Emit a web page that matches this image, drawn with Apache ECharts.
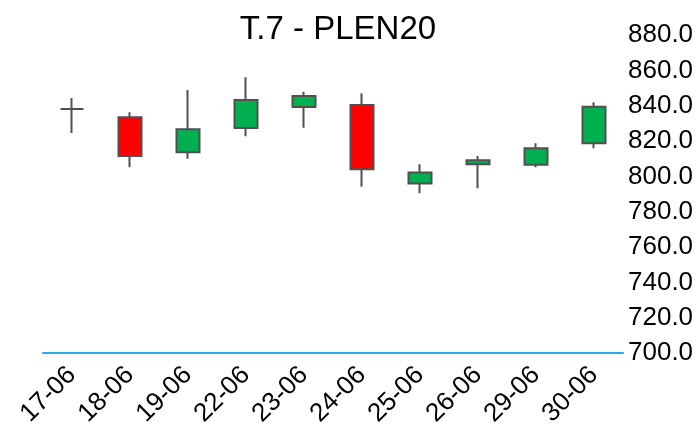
<!DOCTYPE html>
<html>
<head>
<meta charset="utf-8">
<script src="https://cdn.jsdelivr.net/npm/echarts@6/dist/echarts.min.js"></script>
<style>
html,body{margin:0;padding:0;background:#fff;}
#chart{width:698px;height:433px;}
</style>
</head>
<body>
<div id="chart"></div>
<script>
// dates and OHLC
var dates=['17-06','18-06','19-06','22-06','23-06','24-06','25-06','26-06','29-06','30-06'];
var opens =[838.1,833.4,813.6,827.4,839.3,840.4,795.9,806.8,806.6,818.7];
var closes=[838.1,811.5,826.6,843.2,845.5,804.0,802.1,809.1,815.9,839.4];
var lows  =[824.5,805.1,810.0,822.7,827.5,794.1,790.4,793.2,805.1,815.9];
var highs =[844.3,836.3,848.9,856.1,847.9,847.0,806.8,811.5,818.7,841.9];

var candles=[];
for(var i=0;i<dates.length;i++){
    candles.push([opens[i],closes[i],lows[i],highs[i]]);
}

var chart=echarts.init(document.getElementById('chart'),null,{renderer:'canvas'});
chart.setOption({
    animation:false,
    backgroundColor:'#fff',
    title:{
        text:'T.7 - PLEN20',
        left:333, top:8,
        textAlign:'center',
        textStyle:{fontFamily:'Liberation Sans',fontSize:33,fontWeight:'normal',color:'#000'}
    },
    grid:{left:43,right:75,top:35,bottom:80},
    xAxis:{
        type:'category',
        data:dates,
        axisLine:{lineStyle:{color:'#29abe2',width:2}},
        axisTick:{show:false},
        axisLabel:{rotate:45,margin:18,fontFamily:'Liberation Sans',fontSize:26,color:'#000'}
    },
    yAxis:{
        type:'value',
        position:'right',
        min:700,max:880,interval:20,
        axisLine:{show:false},
        axisTick:{show:false},
        splitLine:{show:false},
        axisLabel:{margin:5,fontFamily:'Liberation Sans',fontSize:26,color:'#000',
            formatter:function(v){return v.toFixed(1);}}
    },
    series:[{
        type:'candlestick',
        data:candles,
        barWidth:23,
        itemStyle:{
            color:'#00b050',color0:'#ff0000',
            borderColor:'#505050',borderColor0:'#505050',
            borderWidth:2
        }
    }]
});
</script>
</body>
</html>
